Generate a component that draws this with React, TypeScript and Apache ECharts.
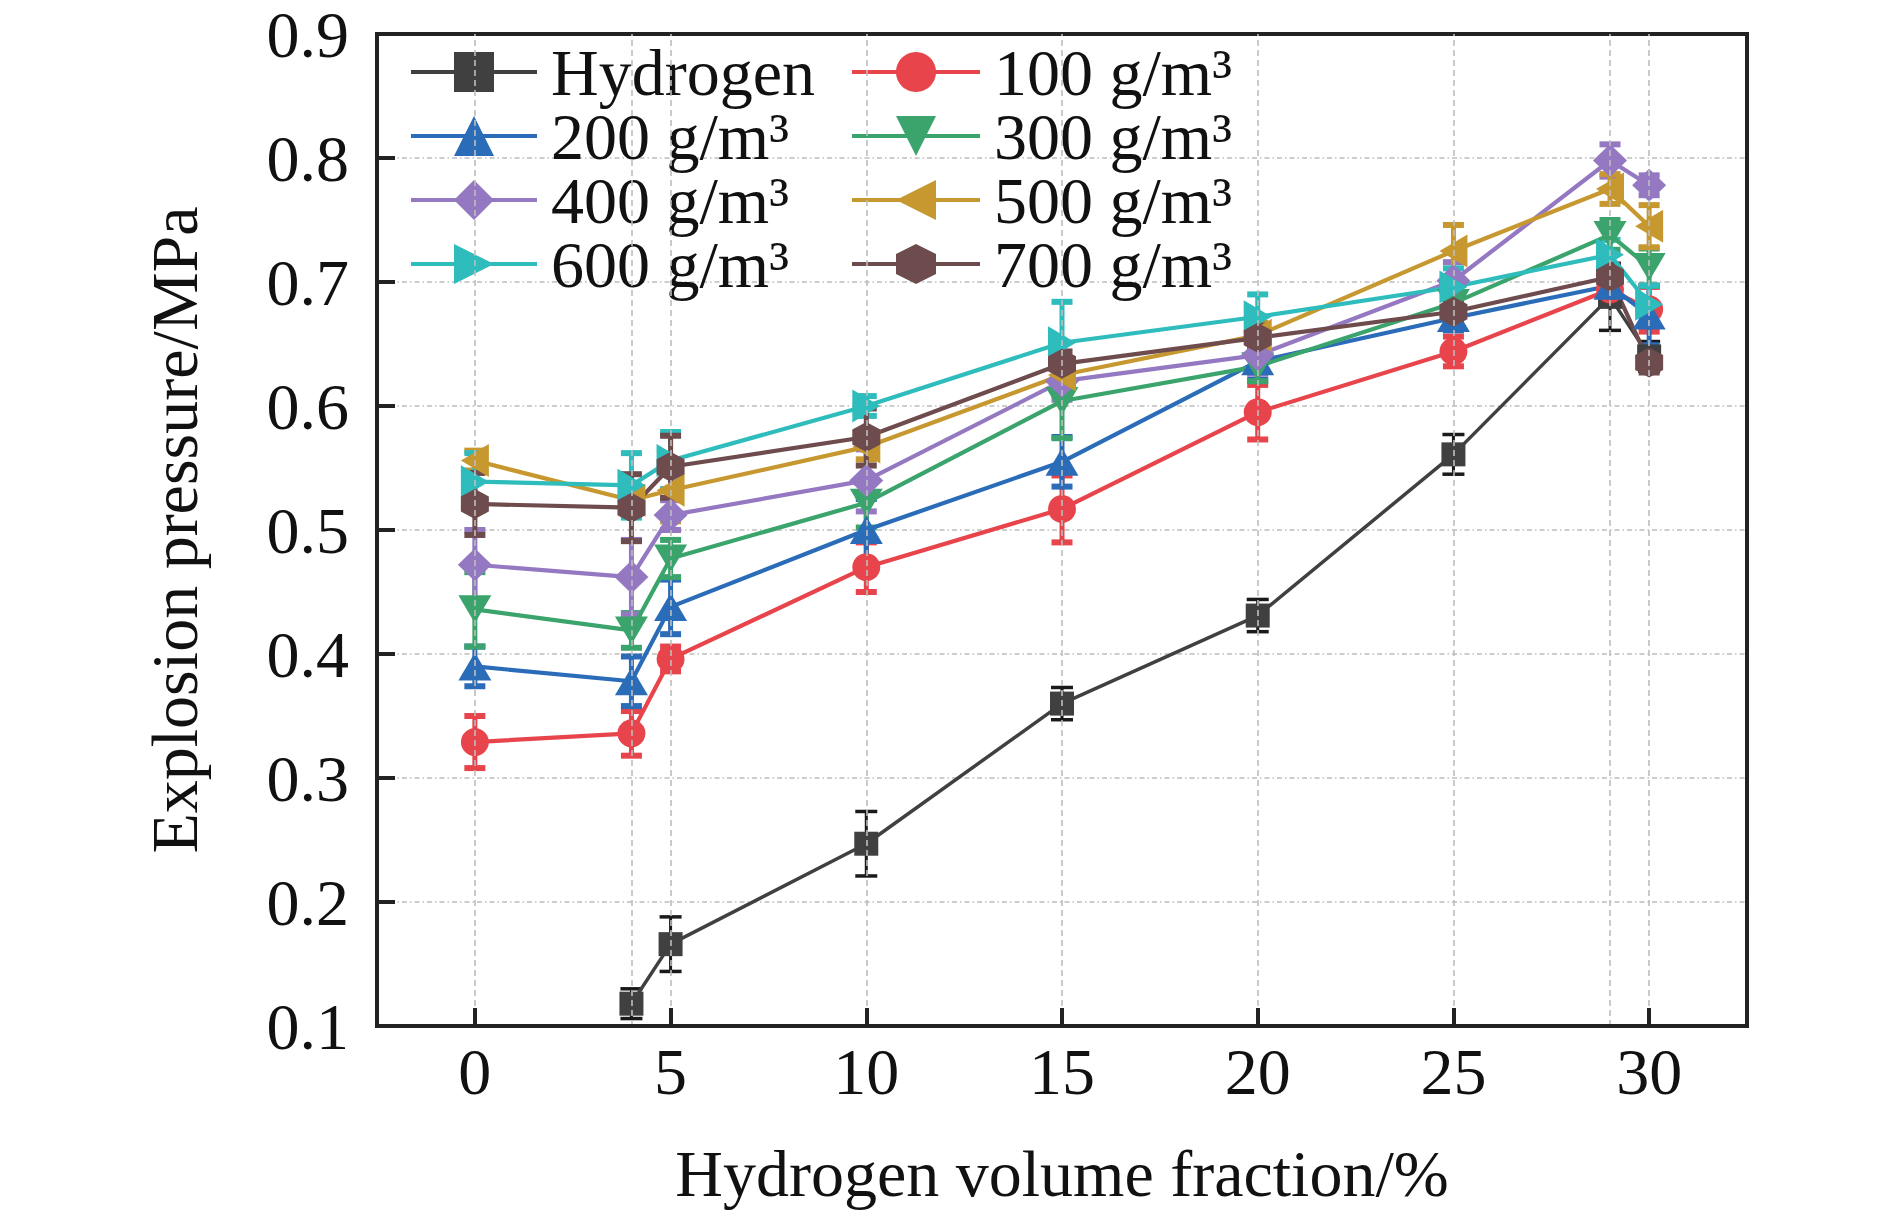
import React, { useEffect, useRef } from "react";
import * as echarts from "echarts";

// ---------- data ----------
const xValues = [0, 4, 5, 10, 15, 20, 25, 29, 30];
const xTickValues = [0, 5, 10, 15, 20, 25, 30];

const seriesNames = [
  "Hydrogen",
  "100 g/m³",
  "200 g/m³",
  "300 g/m³",
  "400 g/m³",
  "500 g/m³",
  "600 g/m³",
  "700 g/m³",
];

const hydrogen = [null, 0.118, 0.166, 0.247, 0.36, 0.431, 0.561, 0.688, 0.64];
const hydrogenErr = [null, 0.012, 0.022, 0.026, 0.013, 0.013, 0.016, 0.027, 0.012];

const dust100 = [0.329, 0.336, 0.396, 0.47, 0.517, 0.595, 0.644, 0.694, 0.678];
const dust100Err = [0.021, 0.018, 0.01, 0.02, 0.027, 0.022, 0.012, 0.01, 0.018];

const dust200 = [0.39, 0.378, 0.438, 0.5, 0.555, 0.636, 0.671, 0.697, 0.673];
const dust200Err = [0.016, 0.02, 0.022, 0.025, 0.02, 0.015, 0.01, 0.015, 0.024];

const dust300 = [0.436, 0.419, 0.477, 0.522, 0.604, 0.632, 0.683, 0.738, 0.712];
const dust300Err = [0.03, 0.014, 0.015, 0.02, 0.03, 0.012, 0.015, 0.012, 0.015];

const dust400 = [0.472, 0.462, 0.512, 0.54, 0.62, 0.641, 0.701, 0.798, 0.778];
const dust400Err = [0.028, 0.03, 0.012, 0.025, 0.015, 0.015, 0.015, 0.013, 0.008];

const dust500 = [0.556, 0.524, 0.532, 0.567, 0.625, 0.657, 0.725, 0.775, 0.745];
const dust500Err = [0.008, 0.012, 0.025, 0.01, 0.012, 0.01, 0.021, 0.012, 0.017];

const dust600 = [0.539, 0.536, 0.556, 0.6, 0.651, 0.672, 0.696, 0.722, 0.682];
const dust600Err = [0.023, 0.026, 0.023, 0.008, 0.033, 0.018, 0.015, 0.012, 0.015];

const dust700 = [0.521, 0.518, 0.551, 0.575, 0.634, 0.655, 0.676, 0.704, 0.635];
const dust700Err = [0.025, 0.027, 0.025, 0.023, 0.01, 0.01, 0.008, 0.01, 0.008];

const allValues = [hydrogen, dust100, dust200, dust300, dust400, dust500, dust600, dust700];
const allErrors = [hydrogenErr, dust100Err, dust200Err, dust300Err, dust400Err, dust500Err, dust600Err, dust700Err];

// ---------- styles ----------
const HEX = "path://M0,-10L8.66,-5L8.66,5L0,10L-8.66,5L-8.66,-5Z";
const styles = [
  { color: "#404040", bar: "#1a1a1a", symbol: "rect", size: [24, 24], rotate: 0, lw: 3.5, barW: 3, capW: 22, capLw: 3.5 },
  { color: "#e8444c", bar: "#e8444c", symbol: "circle", size: [28, 28], rotate: 0, lw: 4.2, barW: 5, capW: 21, capLw: 6 },
  { color: "#2b6cb9", bar: "#2b6cb9", symbol: "triangle", size: [33, 28], rotate: 0, lw: 4.2, barW: 5, capW: 21, capLw: 6 },
  { color: "#3ba46c", bar: "#3ba46c", symbol: "triangle", size: [33, 28], rotate: 180, lw: 4.2, barW: 5, capW: 21, capLw: 6 },
  { color: "#9479c2", bar: "#9479c2", symbol: "diamond", size: [34, 33], rotate: 0, lw: 4.2, barW: 5, capW: 21, capLw: 6 },
  { color: "#c6982f", bar: "#c6982f", symbol: "triangle", size: [33, 28], rotate: 90, lw: 4.2, barW: 5, capW: 21, capLw: 6 },
  { color: "#2ebcbc", bar: "#2ebcbc", symbol: "triangle", size: [33, 28], rotate: -90, lw: 4.2, barW: 5, capW: 21, capLw: 6 },
  { color: "#6e4b4d", bar: "#6e4b4d", symbol: HEX, size: [28, 30], rotate: 0, lw: 4.2, barW: 5, capW: 21, capLw: 6 },
];

const FONT = "Liberation Serif";
const TEXT = "#111111";
const AXIS = "#222222";
const GRID = "#bdbdbd";

function buildOption() {
  const series: any[] = [];

  // vertical dashed grid lines at every measured x
  series.push({
    type: "line",
    data: [],
    silent: true,
    z: 1,
    markLine: {
      silent: true,
      symbol: ["none", "none"],
      animation: false,
      label: { show: false },
      lineStyle: { color: GRID, width: 1.6, type: [6, 4] },
      emphasis: { disabled: true },
      data: xValues.map((x) => ({ xAxis: x })),
    },
  });

  allValues.forEach((vals, si) => {
    const st = styles[si];
    const errs = allErrors[si];
    const errData = vals
      .map((v, i) => (v == null ? null : [xValues[i], (v as number) - (errs[i] as number), (v as number) + (errs[i] as number)]))
      .filter((d) => d !== null);
    series.push({
      type: "custom",
      silent: true,
      z: 3,
      data: errData,
      encode: { x: 0, y: [1, 2] },
      renderItem: (params: any, api: any) => {
        const x = api.value(0);
        const lo = api.value(1);
        const hi = api.value(2);
        const a = api.coord([x, lo]);
        const b = api.coord([x, hi]);
        const hw = st.capW / 2;
        return {
          type: "group",
          children: [
            { type: "line", shape: { x1: a[0], y1: a[1], x2: b[0], y2: b[1] }, style: { stroke: st.bar, lineWidth: st.barW } },
            { type: "line", shape: { x1: a[0] - hw, y1: a[1], x2: a[0] + hw, y2: a[1] }, style: { stroke: st.bar, lineWidth: st.capLw } },
            { type: "line", shape: { x1: b[0] - hw, y1: b[1], x2: b[0] + hw, y2: b[1] }, style: { stroke: st.bar, lineWidth: st.capLw } },
          ],
        };
      },
    });
    series.push({
      type: "line",
      name: seriesNames[si],
      z: 3,
      data: vals.map((v, i) => (v == null ? null : [xValues[i], v])).filter((d) => d !== null),
      symbol: st.symbol,
      symbolSize: st.size,
      symbolRotate: st.rotate,
      showAllSymbol: true,
      lineStyle: { color: st.color, width: st.lw },
      itemStyle: { color: st.color, borderWidth: 0 },
      emphasis: { disabled: true },
    });
  });

  const legendCommon = {
    orient: "vertical",
    top: 39,
    padding: 0,
    itemHeight: 50,
    itemGap: -2,
    selectedMode: false,
    lineStyle: { width: 4 },
    textStyle: { fontSize: 66, fontFamily: FONT, color: TEXT, padding: [0, 0, 0, 9] },
  };

  return {
    animation: false,
    backgroundColor: "#ffffff",
    grid: {
      left: 377,
      top: 34,
      width: 1370,
      height: 992,
      show: true,
      borderColor: AXIS,
      borderWidth: 4,
      backgroundColor: "transparent",
      containLabel: false,
    },
    legend: [
      { ...legendCommon, left: 409, itemWidth: 126, data: [seriesNames[0], seriesNames[2], seriesNames[4], seriesNames[6]] },
      { ...legendCommon, left: 850, itemWidth: 128, data: [seriesNames[1], seriesNames[3], seriesNames[5], seriesNames[7]] },
    ],
    xAxis: {
      type: "value",
      min: -2.5,
      max: 32.5,
      z: 10,
      name: "Hydrogen volume fraction/%",
      nameLocation: "middle",
      nameGap: 114,
      nameTextStyle: { fontSize: 66, fontFamily: FONT, color: TEXT },
      axisLine: { show: true, onZero: false, lineStyle: { color: AXIS, width: 4 } },
      axisTick: { show: true, inside: true, length: 18, lineStyle: { color: AXIS, width: 4 }, customValues: xTickValues },
      axisLabel: { show: true, margin: 12, fontSize: 66, fontFamily: FONT, color: TEXT, customValues: xTickValues },
      splitLine: { show: false },
    },
    yAxis: [
      {
        type: "value",
        min: 0.1,
        max: 0.9,
        interval: 0.1,
        z: 10,
        name: "Explosion pressure/MPa",
        nameLocation: "middle",
        nameRotate: 90,
        nameGap: 170,
        nameTextStyle: { fontSize: 66, fontFamily: FONT, color: TEXT },
        axisLine: { show: true, onZero: false, lineStyle: { color: AXIS, width: 4 } },
        axisTick: { show: true, inside: true, length: 18, lineStyle: { color: AXIS, width: 4 } },
        axisLabel: {
          show: true,
          margin: 28,
          fontSize: 66,
          lineHeight: 50,
          fontFamily: FONT,
          color: TEXT,
          formatter: (v: number) => v.toFixed(1),
        },
        splitLine: { show: false },
      },
      {
        type: "value",
        min: 0.1,
        max: 0.9,
        interval: 0.1,
        z: 0,
        axisLine: { show: false },
        axisTick: { show: false },
        axisLabel: { show: false },
        splitLine: {
          show: true,
          showMinLine: false,
          showMaxLine: false,
          lineStyle: { color: GRID, width: 1.6, type: [5, 3, 1.5, 3] },
        },
      },
    ],
    series,
  };
}

export default function App() {
  const ref = useRef<HTMLDivElement>(null);
  useEffect(() => {
    document.body.style.margin = "0";
    if (!ref.current) return;
    const chart = echarts.init(ref.current, undefined, { renderer: "svg" });
    chart.setOption(buildOption() as any);
    return () => chart.dispose();
  }, []);
  return <div ref={ref} style={{ width: 1890, height: 1216 }} />;
}
